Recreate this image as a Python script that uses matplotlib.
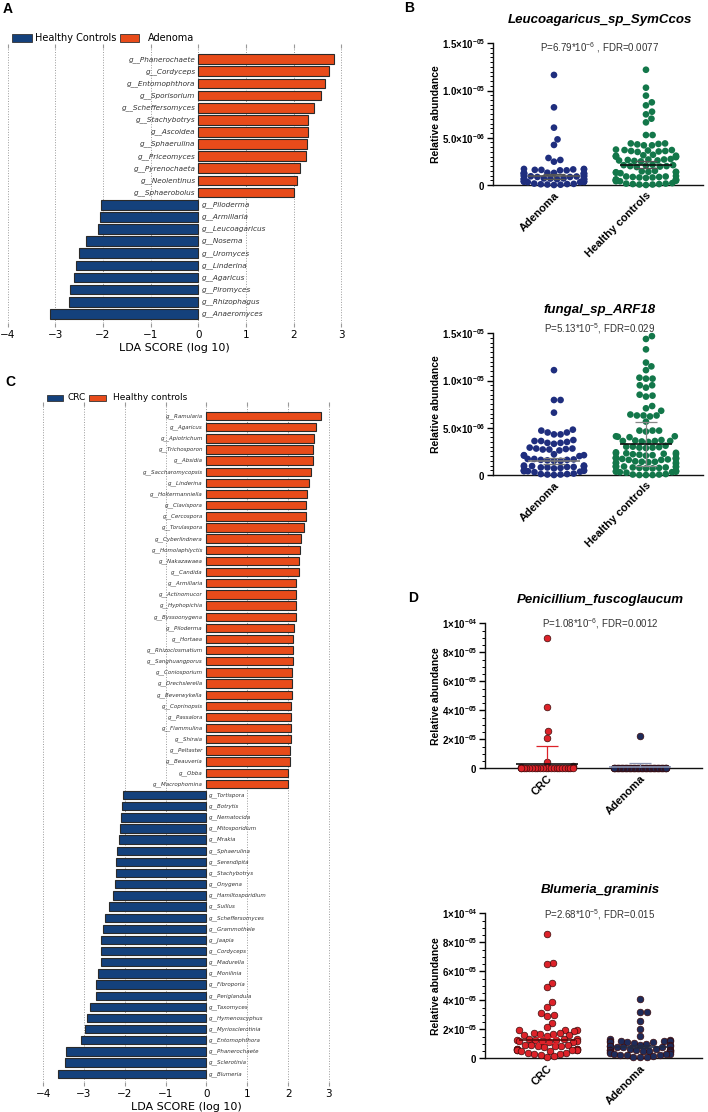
import numpy as np
import matplotlib
matplotlib.use('Agg')
import matplotlib.pyplot as plt
from matplotlib.patches import Rectangle
from matplotlib.ticker import MultipleLocator

plt.rcParams['font.family'] = 'DejaVu Sans'
plt.rcParams['mathtext.fontset'] = 'custom'
plt.rcParams['mathtext.rm'] = 'Liberation Sans'
plt.rcParams['mathtext.bf'] = 'Liberation Sans:bold'
plt.rcParams['mathtext.it'] = 'Liberation Sans:italic'

# ---------------- data ----------------
# Panel A: LEfSe, Adenoma (positive) vs Healthy Controls (negative)
a_names = ['g__Phanerochaete', 'g__Cordyceps', 'g__Entomophthora', 'g__Sporisorium',
           'g__Scheffersomyces', 'g__Stachybotrys', 'g__Ascoidea', 'g__Sphaerulina',
           'g__Priceomyces', 'g__Pyrenochaeta', 'g__Neolentinus', 'g__Sphaerobolus',
           'g__Piloderma', 'g__Armillaria', 'g__Leucoagaricus', 'g__Nosema',
           'g__Uromyces', 'g__Linderina', 'g__Agaricus', 'g__Piromyces',
           'g__Rhizophagus', 'g__Anaeromyces']
a_scores = [2.84, 2.74, 2.65, 2.58, 2.42, 2.30, 2.30, 2.28, 2.26, 2.13, 2.07, 2.01,
            -2.04, -2.07, -2.10, -2.35, -2.51, -2.56, -2.60, -2.70, -2.72, -3.12]

# Panel C: LEfSe, Healthy controls (positive) vs CRC (negative)
c_names = ['g__Ramularia', 'g__Agaricus', 'g__Apiotrichum', 'g__Trichosporon', 'g__Absidia',
           'g__Saccharomycopsis', 'g__Linderina', 'g__Holtermanniella', 'g__Clavispora',
           'g__Cercospora', 'g__Torulaspora', 'g__Cyberlindnera', 'g__Homolaphlyctis',
           'g__Nakazawaea', 'g__Candida', 'g__Armillaria', 'g__Actinomucor', 'g__Hyphopichia',
           'g__Byssoonygena', 'g__Piloderma', 'g__Hortaea', 'g__Rhizoclosmatium',
           'g__Sanghuangporus', 'g__Coniosporium', 'g__Drechslerella', 'g__Beverwykella',
           'g__Coprinopsis', 'g__Passalora', 'g__Flammulina', 'g__Shiraia', 'g__Peltaster',
           'g__Beauveria', 'g__Obba', 'g__Macrophomina',
           'g__Tortispora', 'g__Botrytis', 'g__Nematocida', 'g__Mitosporidium', 'g__Mrakia',
           'g__Sphaerulina', 'g__Serendipita', 'g__Stachybotrys', 'g__Onygena',
           'g__Hamiltosporidium', 'g__Suillus', 'g__Scheffersomyces', 'g__Grammothele',
           'g__Jaapia', 'g__Cordyceps', 'g__Madurella', 'g__Monilinia', 'g__Fibroporia',
           'g__Periglandula', 'g__Taxomyces', 'g__Hymenoscyphus', 'g__Myriosclerotinia',
           'g__Entomophthora', 'g__Phanerochaete', 'g__Sclerotinia', 'g__Blumeria']
c_scores = [2.80, 2.68, 2.63, 2.62, 2.60, 2.55, 2.50, 2.47, 2.45, 2.45, 2.38, 2.31, 2.28,
            2.26, 2.26, 2.19, 2.19, 2.19, 2.19, 2.14, 2.13, 2.11, 2.11, 2.10, 2.10, 2.09,
            2.08, 2.08, 2.06, 2.06, 2.05, 2.04, 2.01, 1.99,
            -2.05, -2.07, -2.10, -2.12, -2.13, -2.20, -2.22, -2.22, -2.24, -2.29, -2.39,
            -2.48, -2.54, -2.58, -2.58, -2.59, -2.66, -2.71, -2.71, -2.85, -2.92, -2.98,
            -3.08, -3.45, -3.47, -3.63]

# Panel B (values x 1e-6)
b1_adenoma = [11.65, 8.22, 6.07, 4.83, 4.24, 2.86, 2.65, 2.47,
              1.70, 1.70, 1.65, 1.65, 1.60, 1.60, 1.55, 1.55,
              1.30, 1.30, 1.28, 1.25, 1.25, 1.20, 1.20, 1.18, 1.15,
              1.00, 0.98, 0.95, 0.95, 0.92, 0.90, 0.88, 0.85, 0.85,
              0.70, 0.70, 0.68, 0.66, 0.65, 0.65, 0.62, 0.60, 0.60, 0.58,
              0.40, 0.40, 0.38, 0.35, 0.35, 0.32, 0.30, 0.30,
              0.15, 0.12, 0.10, 0.08, 0.05, 0.03, 0.0]
b1_healthy = [12.2, 10.3, 9.46, 8.75, 8.43, 7.76, 7.48, 7.02, 6.63, 5.29, 5.29,
              4.40, 4.40, 4.35, 4.30, 4.20, 4.20,
              3.75, 3.70, 3.70, 3.65, 3.60, 3.60, 3.55, 3.50,
              3.20, 3.15, 3.10, 3.10, 3.05, 3.00, 3.00, 2.95,
              2.75, 2.70, 2.70, 2.65, 2.60, 2.60, 2.55, 2.50,
              2.15, 2.10, 2.10, 2.05, 2.00, 2.00, 1.95, 1.90,
              1.50, 1.45, 1.40, 1.40, 1.35, 1.35, 1.30, 1.25,
              0.95, 0.90, 0.90, 0.85, 0.85, 0.80, 0.80, 0.75,
              0.60, 0.60, 0.55, 0.55, 0.50, 0.50, 0.45, 0.45, 0.40, 0.40,
              0.20, 0.15, 0.15, 0.10, 0.10, 0.05, 0.05, 0.0]
b2_adenoma = [11.1, 7.94, 7.94, 6.6, 4.8, 4.7, 4.5, 4.5, 4.3, 4.3,
              3.7, 3.6, 3.6, 3.5, 3.4, 3.4, 3.3,
              2.9, 2.8, 2.8, 2.75, 2.7, 2.7, 2.6,
              2.2, 2.1, 2.1, 2.05, 2.0,
              1.7, 1.7, 1.65, 1.6, 1.6, 1.55, 1.5, 1.5,
              1.0, 1.0, 0.95, 0.95, 0.9, 0.9, 0.85, 0.85, 0.8, 0.8, 0.75, 0.7,
              0.5, 0.5, 0.45, 0.45, 0.4, 0.4, 0.35, 0.3,
              0.15, 0.1, 0.1, 0.05, 0.05, 0.0]
b2_healthy = [14.7, 14.4, 13.3, 11.9, 11.5, 11.1, 10.3, 10.2, 10.2, 9.5, 9.5, 9.25,
              8.5, 8.4, 8.3, 7.3, 7.06, 6.8, 6.4, 6.3, 6.3, 6.2, 6.3, 5.65,
              4.7, 4.7, 4.6, 4.7, 4.1, 4.1, 4.0, 4.05,
              3.7, 3.65, 3.6, 3.6, 3.55, 3.5, 3.6,
              3.1, 3.0, 3.0, 2.95, 2.9, 2.9, 2.85,
              2.4, 2.35, 2.3, 2.3, 2.25, 2.2, 2.2, 2.15, 2.1, 2.05,
              1.85, 1.8, 1.8, 1.75, 1.75, 1.7, 1.7, 1.65, 1.6, 1.6,
              1.45, 1.4, 1.4, 1.35, 1.3, 1.3, 1.25, 1.2,
              0.95, 0.9, 0.9, 0.9, 0.85, 0.85, 0.8, 0.8, 0.75, 0.75, 0.7, 0.7,
              0.45, 0.4, 0.4, 0.35, 0.35, 0.3, 0.3, 0.25,
              0.1, 0.05, 0.05, 0.0, 0.0, 0.0]

# Panel D (values x 1e-5)
d1_crc = [9.01, 4.25, 2.57, 2.12, 0.46, 0.16, 0.12, 0.08, 0.05] + [0.0] * 20
d1_adenoma = [2.23, 0.05, 0.03] + [0.0] * 40
d2_crc = [8.58, 6.60, 6.50, 5.22, 4.90, 3.86, 3.56, 3.15, 2.99, 2.94, 2.44, 2.18,
          1.97, 1.95, 1.93, 1.90, 1.75, 1.72, 1.70, 1.66, 1.62, 1.58, 1.55,
          1.35, 1.32, 1.30, 1.28, 1.26, 1.24, 1.22, 1.20, 1.18, 1.15, 1.12,
          0.95, 0.92, 0.90, 0.88, 0.85, 0.82, 0.80,
          0.66, 0.64, 0.62, 0.62, 0.60, 0.60, 0.58, 0.56, 0.55, 0.52, 0.50,
          0.38, 0.35, 0.32, 0.30, 0.25, 0.15, 0.10]
d2_adenoma = [4.07, 3.17, 3.17, 2.60, 2.02, 1.56, 1.31,
              1.25, 1.22, 1.20, 1.20, 1.18, 1.15, 1.12, 1.10, 1.05, 1.00,
              0.92, 0.90, 0.88, 0.85, 0.82, 0.80, 0.78, 0.75,
              0.65, 0.62, 0.60, 0.60, 0.58, 0.56, 0.55, 0.52, 0.50, 0.48, 0.45, 0.42,
              0.35, 0.32, 0.30, 0.28, 0.25, 0.22, 0.20, 0.15, 0.12, 0.10, 0.08]

# mean / error bar values
b1_means, b1_errs = [0.9e-6, 2.15e-6], [0.3e-6, 0.35e-6]
b2_means, b2_errs = [1.5e-6, 3.3e-6], [0.35e-6, 2.35e-6]
d1_means, d1_errs = [3.0e-6, 1.2e-6], [1.24e-5, 2.2e-6]
d2_means, d2_errs = [1.27e-5, 8.0e-6], [2.0e-6, 1.2e-6]

ORANGE = '#E84B1A'
BLUE = '#14417C'
NAVY_B = '#1F2E7E'
GREEN = '#13774A'
RED = '#DD2229'
NAVY_D = '#1E2B5A'

W, H = 708, 1112
fig = plt.figure(figsize=(W / 100, H / 100), dpi=100)


def box(x0, y0, x1, y1):
    # pixel box (top-left origin) -> figure fraction rect
    return [x0 / W, 1 - y1 / H, (x1 - x0) / W, (y1 - y0) / H]


def lda_panel(rect, names, scores, top_pad, bot_pad, fs, bar_h, off_l, off_r):
    ax = fig.add_axes(rect)
    y = np.arange(len(names))
    cols = [ORANGE if s > 0 else BLUE for s in scores]
    ax.barh(y, scores, height=bar_h, color=cols, edgecolor='#2a2a2a', linewidth=0.8, zorder=3)
    for yi, n, s in zip(y, names, scores):
        if s > 0:
            ax.text(-off_l, yi, n, ha='right', va='center', style='italic', fontsize=fs,
                    color='#333333', zorder=4)
        else:
            ax.text(off_r, yi, n, ha='left', va='center', style='italic', fontsize=fs,
                    color='#333333', zorder=4)
    ax.set_xlim(-4.1, 3.1)
    ax.set_ylim(len(names) - 1 + bot_pad, -top_pad)
    ax.set_xticks(range(-4, 4))
    ax.set_yticks([])
    ax.xaxis.grid(True, ls=':', color='#9a9a9a', lw=0.7, zorder=0)
    for sp in ax.spines.values():
        sp.set_visible(False)
    ax.tick_params(axis='x', top=True, bottom=True, length=3, color='#999999',
                   labelsize=7.5, pad=2)
    ax.set_xlabel('LDA SCORE (log 10)', fontsize=8, labelpad=2)
    return ax


def fig_rect(x0, y0, x1, y1, color):
    fig.add_artist(Rectangle((x0 / W, 1 - y1 / H), (x1 - x0) / W, (y1 - y0) / H,
                             transform=fig.transFigure, facecolor=color,
                             edgecolor='#333333', lw=0.6))


def ftext(x, y, s, **kw):
    fig.text(x / W, 1 - y / H, s, **kw)


# ---- panel A ----
lda_panel(box(3, 48, 346, 323), a_names, a_scores, 11 / 12, 9 / 12, 5.2, 0.8, 0.06, 0.08)
fig_rect(12, 34, 32, 42, BLUE)
ftext(35, 38, 'Healthy Controls', fontsize=7, va='center')
fig_rect(120, 34, 139, 42, ORANGE)
ftext(148, 38, 'Adenoma', fontsize=7, va='center')

# ---- panel C ----
lda_panel(box(39, 406, 333, 1082), c_names, c_scores, 0.9, 0.74, 4.0, 0.75, 0.085, 0.06)
fig_rect(47, 395, 63, 401, BLUE)
ftext(67, 398, 'CRC', fontsize=6.5, va='center')
fig_rect(89, 395, 106, 401, ORANGE)
ftext(113, 398, 'Healthy controls', fontsize=6.5, va='center')


def swarm_offsets(ax, vals, d, wmax):
    # greedy beeswarm in pixel space, returns offsets in x data units
    t = ax.transData
    pxu = t.transform([[1, 0]])[0, 0] - t.transform([[0, 0]])[0, 0]
    ys = t.transform(np.column_stack([np.zeros(len(vals)), vals]))[:, 1]
    offs = np.zeros(len(vals))
    placed = []
    vals = np.asarray(vals)
    # crowded identical values: spread evenly across the allowed width
    uniq, counts = np.unique(vals, return_counts=True)
    done = np.zeros(len(vals), bool)
    for u, c in zip(uniq, counts):
        if c * d > 2 * wmax:
            idx = np.where(vals == u)[0]
            xs = np.linspace(-wmax, wmax, c)
            order = np.argsort(np.abs(xs))
            for k, i in enumerate(idx):
                offs[i] = xs[order[k]]
                placed.append((offs[i], ys[i]))
                done[i] = True
    for i in np.argsort(vals, kind='stable'):
        if done[i]:
            continue
        y = ys[i]
        cands = [0.0]
        for px, py in placed:
            dy = y - py
            if abs(dy) < d:
                dx = np.sqrt(d * d - dy * dy)
                cands += [px + dx, px - dx]
        cands.sort(key=abs)
        best = cands[-1]
        for c in cands:
            if all((c - px) ** 2 + (y - py) ** 2 >= d * d - 1e-6 for px, py in placed):
                best = c
                break
        if abs(best) > wmax:
            best = np.sign(best) * wmax
        offs[i] = best
        placed.append((best, y))
    return offs / pxu


def dot_panel(rect, groups, data, scale, colors, edge, means, errs, line_cols, err_cols,
              ymax, major, minor, yticklabels, xlim, half_w, wmax):
    ax = fig.add_axes(rect)
    ax.set_xlim(xlim)
    ax.set_ylim(0, ymax)
    for k, (vals, col) in enumerate(zip(data, colors)):
        v = np.asarray(vals) * scale
        xo = swarm_offsets(ax, v, 6.6, wmax)
        ax.scatter(k + xo, v, s=23, color=col,
                   edgecolors=edge if edge else 'none', linewidths=0.5 if edge else 0,
                   clip_on=False, zorder=3)
    for k in range(len(groups)):
        m, e = means[k], errs[k]
        ax.vlines(k, m - e, m + e, color=err_cols[k], lw=0.9, zorder=4)
        ax.hlines([m - e, m + e], k - 0.12, k + 0.12, color=err_cols[k], lw=0.9, zorder=4)
        ax.hlines(m, k - half_w, k + half_w, color=line_cols[k], lw=1.2, zorder=5)
    ax.spines['top'].set_visible(False)
    ax.spines['right'].set_visible(False)
    for s in ('left', 'bottom'):
        ax.spines[s].set_linewidth(1.0)
        ax.spines[s].set_color('#111111')
    ax.set_yticks(major)
    ax.set_yticklabels(yticklabels, fontsize=7)
    ax.yaxis.set_minor_locator(MultipleLocator(minor))
    ax.tick_params(axis='y', which='major', length=4, width=1.0, pad=1.5)
    ax.tick_params(axis='y', which='minor', length=2, width=0.7)
    ax.set_xticks(range(len(groups)))
    ax.set_xticklabels(groups, rotation=45, ha='right', rotation_mode='anchor',
                       fontsize=8, fontweight='bold', family='Liberation Sans')
    ax.tick_params(axis='x', length=0, pad=4)
    return ax


b_ticks = [r'$\mathbf{0}$', r'$\mathbf{5.0{\times}10^{-06}}$',
           r'$\mathbf{1.0{\times}10^{-05}}$', r'$\mathbf{1.5{\times}10^{-05}}$']
d_ticks = [r'$\mathbf{0}$', r'$\mathbf{2{\times}10^{-05}}$', r'$\mathbf{4{\times}10^{-05}}$',
           r'$\mathbf{6{\times}10^{-05}}$', r'$\mathbf{8{\times}10^{-05}}$',
           r'$\mathbf{1{\times}10^{-04}}$']
b_groups = ['Adenoma', 'Healthy controls']
d_groups = ['CRC', 'Adenoma']
b_xlim = (-0.666, 1.62)
d_xlim = (-0.667, 1.667)

# ---- panel B ----
dot_panel(box(492.7, 43.3, 703, 185), b_groups, [b1_adenoma, b1_healthy], 1e-6,
          [NAVY_B, GREEN], None, b1_means, b1_errs, ['#555555', '#111111'],
          ['#555555', '#555555'], 1.5e-5, [0, 5e-6, 1e-5, 1.5e-5], 5e-7, b_ticks,
          b_xlim, 0.28, 30)
dot_panel(box(492.7, 333.3, 703, 475), b_groups, [b2_adenoma, b2_healthy], 1e-6,
          [NAVY_B, GREEN], None, b2_means, b2_errs, ['#777777', '#111111'],
          ['#777777', '#888888'], 1.5e-5, [0, 5e-6, 1e-5, 1.5e-5], 5e-7, b_ticks,
          b_xlim, 0.28, 30)

# ---- panel D ----
dot_panel(box(485, 623.3, 702, 768.3), d_groups, [d1_crc, d1_adenoma], 1e-5,
          [RED, NAVY_D], '#3a0a0a', d1_means, d1_errs, ['#111111', '#8a93b0'],
          [RED, '#8a93b0'], 1e-4, [0, 2e-5, 4e-5, 6e-5, 8e-5, 1e-4], 5e-6, d_ticks,
          d_xlim, 0.33, 26)
dot_panel(box(485, 913.3, 702, 1058.3), d_groups, [d2_crc, d2_adenoma], 1e-5,
          [RED, NAVY_D], '#3a0a0a', d2_means, d2_errs, ['#5a0a0a', '#222a44'],
          [RED, '#222a44'], 1e-4, [0, 2e-5, 4e-5, 6e-5, 8e-5, 1e-4], 5e-6, d_ticks,
          d_xlim, 0.30, 30)

# titles, stats, y labels
tkw = dict(fontsize=9.5, fontweight='bold', style='italic', family='Liberation Sans',
           ha='center', va='center')
pkw = dict(fontsize=7, family='Liberation Sans', ha='center', va='center', color='#333333')
ykw = dict(fontsize=7.5, fontweight='bold', family='Liberation Sans', rotation=90,
           ha='center', va='center')

ftext(600, 20, 'Leucoagaricus_sp_SymCcos', **tkw)
ftext(600, 48, r'P=6.79*10$^{-6}$ , FDR=0.0077', **pkw)
ftext(436, 114, 'Relative abundance', **ykw)

ftext(600, 310, 'fungal_sp_ARF18', **tkw)
ftext(600, 329, r'P=5.13*10$^{-5}$, FDR=0.029', **pkw)
ftext(436, 404, 'Relative abundance', **ykw)

ftext(600, 600, 'Penicillium_fuscoglaucum', **tkw)
ftext(600, 624, r'P=1.08*10$^{-6}$, FDR=0.0012', **pkw)
ftext(436, 696, 'Relative abundance', **ykw)

ftext(600, 890, 'Blumeria_graminis', **tkw)
ftext(600, 915, r'P=2.68*10$^{-5}$, FDR=0.015', **pkw)
ftext(436, 986, 'Relative abundance', **ykw)

# panel letters
lkw = dict(fontsize=10, fontweight='bold', family='Liberation Sans', ha='center', va='center')
ftext(8, 9, 'A', **lkw)
ftext(409, 8, 'B', **lkw)
ftext(10, 382, 'C', **lkw)
ftext(413, 598, 'D', **lkw)

fig.savefig('out.png', dpi=100)
